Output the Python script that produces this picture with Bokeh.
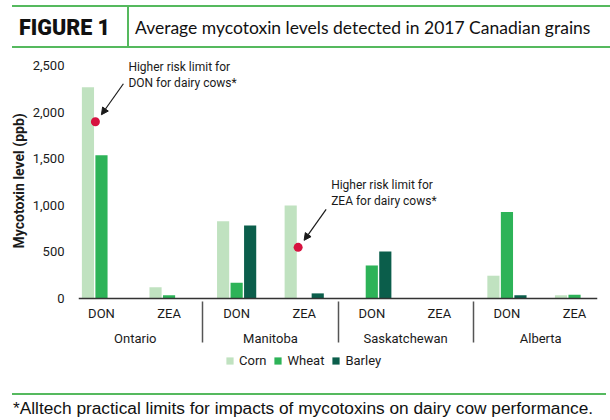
from bokeh.plotting import figure
from bokeh.models import (FactorRange, Range1d, ColumnDataSource, FixedTicker,
                          NumeralTickFormatter, Legend, LegendItem, Arrow, NormalHead,
                          Title, Div)
from bokeh.layouts import column
from bokeh.transform import dodge
from bokeh.core.properties import value
from bokeh.embed import file_html
from bokeh.resources import INLINE

# ---- data -------------------------------------------------------------
provinces = ["Ontario", "Manitoba", "Saskatchewan", "Alberta"]
toxins = ["DON", "ZEA"]
series = ["Corn", "Wheat", "Barley"]
corn = [2270, 120, 830, 1000, 0, 0, 245, 35]
wheat = [1540, 35, 170, 0, 355, 0, 930, 40]
barley = [0, 0, 785, 55, 505, 0, 35, 0]
limit_cats = [("Ontario", "DON"), ("Manitoba", "ZEA")]
limit_values = [1900, 550]
limit_notes = ["Higher risk limit for\nDON for dairy cows*",
               "Higher risk limit for\nZEA for dairy cows*"]
y_ticks = [0, 500, 1000, 1500, 2000, 2500]
y_title = "Mycotoxin level (ppb)"
fig_label = "FIGURE 1"
title = "Average mycotoxin levels detected in 2017 Canadian grains"
footnote = "*Alltech practical limits for impacts of mycotoxins on dairy cow performance."

# ---- styling / geometry ----------------------------------------------
FONT = "Roboto"
colors = ["#c0e2c0", "#2db358", "#0b5e4b"]
RED = "#d6123f"
RULE = "#55b95e"
INK = "#1a1a1a"
W = 610
HEAD_H, FOOT_H = 50, 48
H = 420 - HEAD_H - FOOT_H        # chart block height
LEFT, RIGHT = 78, 13             # frame spans x = 78 .. 597
BASE = 248                       # pixel row of the zero line inside the chart block
UPP = 10.75                      # y units per pixel
PAD = 0.16                       # trimmed off each outer half-category
PXU = (W - LEFT - RIGHT) / (len(provinces) * len(toxins) - 2 * PAD)  # px per category
DOT_DX = -0.09                   # limit dot sits between corn and wheat bars

factors = [(p_, t) for p_ in provinces for t in toxins]

# ---- header -----------------------------------------------------------
head_html = f"""
<div style="position:relative;width:{W}px;height:{HEAD_H}px;color:#111;">
  <div style="position:absolute;left:12px;top:5px;width:{W - 12}px;height:2px;background:{RULE};"></div>
  <div style="position:absolute;left:12px;top:46px;width:{W - 12}px;height:2px;background:{RULE};"></div>
  <div style="position:absolute;left:127px;top:6px;width:1.5px;height:41px;background:{RULE};"></div>
  <div style="position:absolute;left:19px;top:7px;height:41px;line-height:41px;white-space:nowrap;
              font-family:Roboto;font-weight:900;font-size:21.5px;">{fig_label}</div>
  <div style="position:absolute;left:135px;top:7px;height:41px;line-height:41px;white-space:nowrap;
              font-family:Lato;font-size:17.5px;">{title}</div>
</div>"""
head = Div(text=head_html, width=W, height=HEAD_H, margin=0)

# ---- chart ------------------------------------------------------------
p = figure(width=W, height=H, title=None,
           x_range=FactorRange(*factors, factor_padding=0, group_padding=0,
                               subgroup_padding=0, range_padding=-PAD,
                               range_padding_units="absolute"),
           y_range=Range1d(-(H - BASE) * UPP, BASE * UPP),
           output_backend="svg", toolbar_location=None,
           min_border_left=LEFT, min_border_right=RIGHT,
           min_border_top=0, min_border_bottom=0)
p.grid.visible = False
p.outline_line_color = None

src = ColumnDataSource(dict(x=factors, Corn=corn, Wheat=wheat, Barley=barley))
items = []
for s, off, col in zip(series, [-0.2, 0.0, 0.2], colors):
    r = p.vbar(x=dodge("x", off, range=p.x_range), top=s, width=0.18, source=src,
               fill_color=col, line_color=None)
    items.append(LegendItem(label=s, renderers=[r]))

# risk-limit markers with their notes and arrows
note_dy = [-55, -62]             # px above the dot for the first note line
asrc = ColumnDataSource(dict(
    cat=limit_cats, v=limit_values, note=limit_notes,
    ty=[v + (7 - d) * UPP for v, d in zip(limit_values, note_dy)],
    ys=[v + 38 * UPP for v in limit_values],
    ye=[v + 7 * UPP for v in limit_values],
))
p.scatter(x=dodge("cat", DOT_DX, range=p.x_range), y="v", size=9, source=asrc,
          fill_color=RED, line_color=None)
p.text(x=dodge("cat", DOT_DX + 33 / PXU, range=p.x_range), y="ty", text="note",
       source=asrc, text_font=value(FONT), text_font_size="12px", text_baseline="top",
       text_line_height=1.15, text_color=INK)
p.add_layout(Arrow(x_start=dodge("cat", DOT_DX + 28 / PXU, range=p.x_range), y_start="ys",
                   x_end=dodge("cat", DOT_DX + 6 / PXU, range=p.x_range), y_end="ye",
                   source=asrc, line_color=INK, line_width=1.2,
                   end=NormalHead(size=7, fill_color=INK, line_color=INK)))

yax = p.yaxis[0]
yax.ticker = FixedTicker(ticks=y_ticks)
yax.formatter = NumeralTickFormatter(format="0,0")
yax.axis_line_color = None
yax.major_tick_line_color = None
yax.minor_tick_line_color = None
yax.major_tick_out = 0
yax.major_label_standoff = 14
yax.major_label_text_font = FONT
yax.major_label_text_font_size = "13px"
yax.major_label_text_color = INK

# vertical axis title, starting level with the 0 - 2,500 span rather than the full block
p.add_layout(Title(text=y_title, align="left", offset=H - BASE + 50, standoff=5,
                   text_font=FONT, text_font_style="bold", text_font_size="14px",
                   text_color=INK), "left")

xax = p.xaxis[0]
xax.fixed_location = 0
xax.axis_line_color = "#333333"
xax.axis_line_width = 1.5
xax.major_tick_line_color = None
xax.minor_tick_line_color = None
xax.major_tick_out = 0
xax.major_label_standoff = 7
xax.major_label_text_font = FONT
xax.major_label_text_font_size = "13px"
xax.major_label_text_color = INK
xax.group_text_font = FONT
xax.group_text_font_style = "normal"
xax.group_text_font_size = "13px"
xax.group_text_color = INK
xax.separator_line_color = "#555555"
xax.separator_line_width = 1.5

legend = Legend(items=items, orientation="horizontal", location=(147, 4),
                glyph_width=9, glyph_height=9, label_standoff=5, spacing=7,
                padding=0, margin=0, border_line_color=None, background_fill_alpha=0,
                label_text_font=FONT, label_text_font_size="13px",
                label_text_color=INK)
p.add_layout(legend)

# ---- footnote ---------------------------------------------------------
foot_html = f"""
<div style="position:relative;width:{W}px;height:{FOOT_H}px;color:#111;">
  <div style="position:absolute;left:12px;top:21px;width:594px;height:2px;background:{RULE};"></div>
  <div style="position:absolute;left:13px;top:26px;height:20px;line-height:20px;white-space:nowrap;
              font-family:'Liberation Sans';font-size:17.3px;">{footnote}</div>
</div>"""
foot = Div(text=foot_html, width=W, height=FOOT_H, margin=0)

layout = column(head, p, foot, spacing=0)
open("out.html", "w").write(file_html(layout, INLINE))
